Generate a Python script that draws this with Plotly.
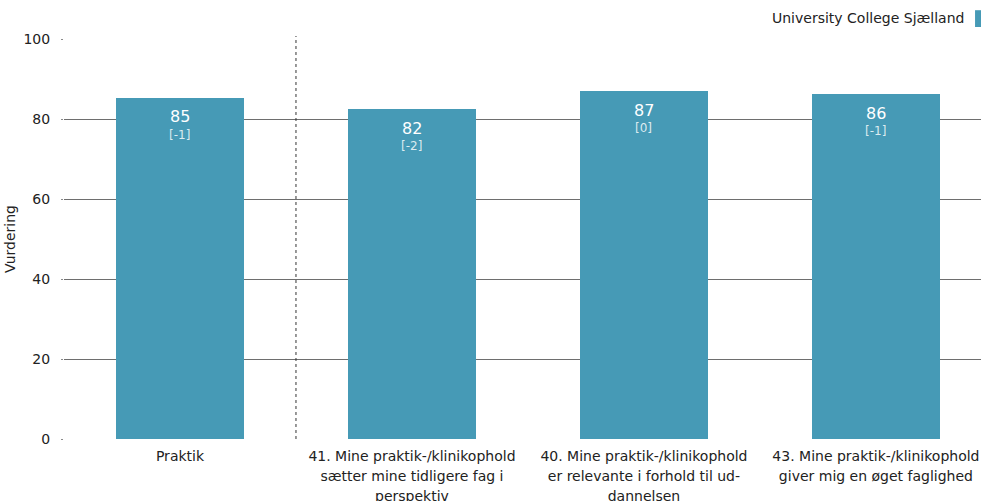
import plotly.graph_objects as go

categories = [
    "Praktik",
    "41. Mine praktik-/klinikophold<br>sætter mine tidligere fag i<br>perspektiv",
    "40. Mine praktik-/klinikophold<br>er relevante i forhold til ud-<br>dannelsen",
    "43. Mine praktik-/klinikophold<br>giver mig en øget faglighed",
]
values = [85.3, 82.5, 87.0, 86.2]
labels = ["85", "82", "87", "86"]
changes = ["[-1]", "[-2]", "[0]", "[-1]"]
series_name = "University College Sjælland"
y_ticks = [0, 20, 40, 60, 80, 100]

BAR = "#469ab6"
FONT = "DejaVu Sans, sans-serif"

tick_text = ["<br>".join(f"<span style='font-size:14px'>{part}</span>" for part in c.split("<br>"))
             for c in categories]

fig = go.Figure()
fig.add_trace(go.Bar(
    x=list(range(len(categories))), y=values, marker_color=BAR, width=0.552,
    marker_line_width=0, name=series_name, showlegend=False, hoverinfo="skip",
))

for i, (v, l, c) in enumerate(zip(values, labels, changes)):
    fig.add_annotation(x=i, y=v, xref="x", yref="y", text=l, showarrow=False,
                       yanchor="middle", yshift=-19,
                       font=dict(size=16, color="white", family=FONT))
    fig.add_annotation(x=i, y=v, xref="x", yref="y", text=c, showarrow=False,
                       yanchor="middle", yshift=-37,
                       font=dict(size=12, color="rgba(255,255,255,0.82)", family=FONT))

fig.add_shape(type="line", x0=0.5, x1=0.5, y0=0, y1=1.0075, xref="x", yref="paper",
              line=dict(color="#333333", width=1, dash="dot"))

fig.add_annotation(text=series_name, xref="paper", yref="paper", x=0.9836, y=1.052,
                   xanchor="right", yanchor="middle", showarrow=False,
                   font=dict(size=14, color="#222222", family=FONT))
fig.add_shape(type="rect", xref="paper", yref="paper", x0=0.9935, x1=1.003, y0=1.03, y1=1.072,
              fillcolor=BAR, line=dict(width=0))

fig.update_layout(
    width=981, height=501,
    margin=dict(l=64, r=0, t=39, b=62, autoexpand=False),
    plot_bgcolor="white", paper_bgcolor="white",
    font=dict(family=FONT, size=14, color="#222222"),
    bargap=0,
    xaxis=dict(range=[-0.5, 3.453], tickmode="array", tickvals=list(range(len(categories))),
               ticktext=tick_text, showgrid=False, zeroline=False, showline=False,
               tickfont=dict(size=15.4), ticks="", ticklabelstandoff=6, automargin=False),
    yaxis=dict(range=[0, 100], tickvals=y_ticks, showgrid=True, gridcolor="#6e6e6e", gridwidth=1,
               zeroline=False, ticks="outside", ticklen=2, tickcolor="#8a8a8a",
               ticklabelstandoff=8,
               title=dict(text="Vurdering", font=dict(size=14), standoff=4),
               tickfont=dict(size=14), automargin=False),
)

fig.write_html("out.html", config={"displayModeBar": False},
               post_script="document.body.style.margin='0';document.body.style.overflow='hidden';")
